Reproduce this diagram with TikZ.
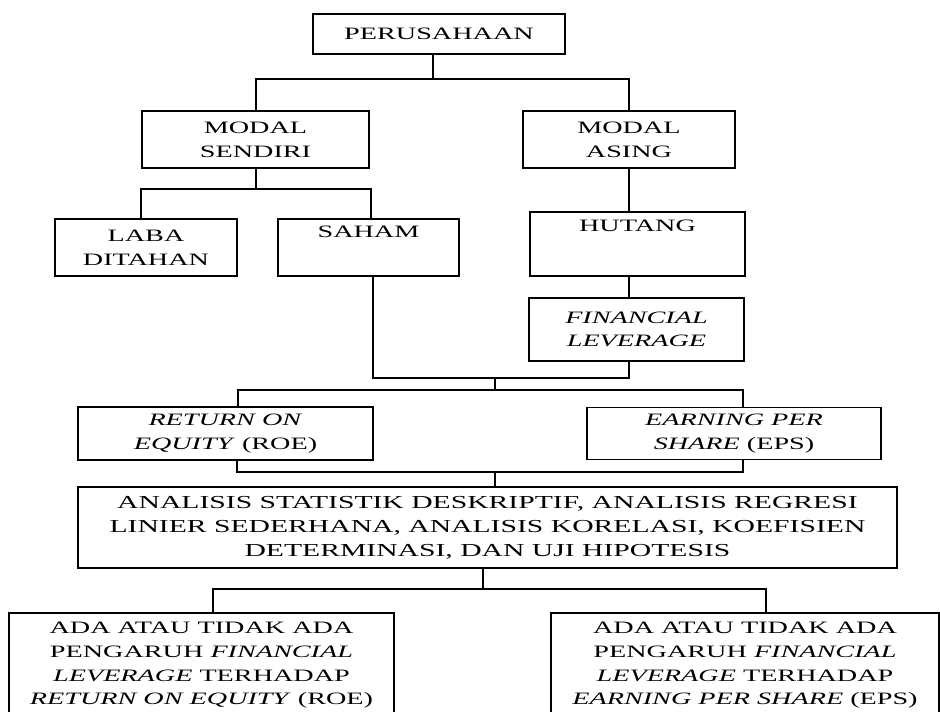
\documentclass[tikz,border=0pt]{standalone}
\usepackage{fontspec}
\setmainfont{Liberation Serif}[FakeStretch=1.62]
\usetikzlibrary{calc}
\tikzset{
  box/.style={draw, line width=1.6pt, inner sep=0pt, outer sep=0pt, align=center,
    font=\fontsize{17.4pt}{23.7pt}\selectfont},
  conn/.style={line width=1.3pt}
}
\begin{document}
\begin{tikzpicture}[x=1pt,y=-1pt]
\useasboundingbox (0,0) rectangle (940,712);
% nodes
\node[box, minimum width=252pt, minimum height=40pt] (per) at (439,34) {PERUSAHAAN};
\node[box, minimum width=227pt, minimum height=57pt] (ms) at (255.5,139.5) {MODAL\\SENDIRI};
\node[box, minimum width=212pt, minimum height=57pt] (ma) at (629,139.5) {MODAL\\ASING};
\node[box, minimum width=182pt, minimum height=57pt] (laba) at (146,247.5) {LABA\\DITAHAN};
\node[box, minimum width=181pt, minimum height=57pt] (saham) at (368.5,247.5) {SAHAM\\ \strut};
\node[box, minimum width=215pt, minimum height=64pt] (hut) at (637.5,244) {HUTANG\\[6pt] \strut};
\node[box, minimum width=215pt, minimum height=63pt] (fl) at (636.5,329.5) {\textit{FINANCIAL}\\\textit{LEVERAGE}};
\node[box, minimum width=295pt, minimum height=53pt] (roe) at (225.5,433.5) {\textit{RETURN ON}\\\textit{EQUITY} (ROE)};
\node[box, minimum width=294pt, minimum height=52pt] (eps) at (734,433.5) {\textit{EARNING PER}\\\textit{SHARE} (EPS)};
\node[box, minimum width=819pt, minimum height=81pt, font=\fontsize{18.3pt}{23.9pt}\selectfont] (ana) at (487.5,527.5) {ANALISIS STATISTIK DESKRIPTIF, ANALISIS REGRESI\\LINIER SEDERHANA, ANALISIS KORELASI, KOEFISIEN\\DETERMINASI, DAN UJI HIPOTESIS};
\node[box, minimum width=385pt, minimum height=105pt] (b1) at (201.5,665.5) {ADA ATAU TIDAK ADA\\PENGARUH \textit{FINANCIAL}\\\textit{LEVERAGE} TERHADAP\\\textit{RETURN ON EQUITY} (ROE)};
\node[box, minimum width=388pt, minimum height=105pt] (b2) at (745,665.5) {ADA ATAU TIDAK ADA\\PENGARUH \textit{FINANCIAL}\\\textit{LEVERAGE} TERHADAP\\\textit{EARNING PER SHARE} (EPS)};
% junction coordinates
\coordinate (j1) at (433,79);
\coordinate (j2) at (256,189);
\coordinate (j3) at (629,378);
\coordinate (j4) at (495,390);
\coordinate (j5) at (495,472);
\coordinate (j6) at (483,589);
% connectors
\draw[conn] (per.south -| j1) -- (j1);
\draw[conn] ($(ms.north)+(0.5,0)$) |- (j1) -| (ma.north);
\draw[conn] ($(ms.south)+(0.5,0)$) -- (j2);
\draw[conn] ($(laba.north)+(-5,0)$) |- (j2) -| ($(saham.north)+(2.5,0)$);
\draw[conn] (ma.south) -- (ma.south |- hut.north);
\draw[conn] (hut.south -| ma.south) -- (fl.north -| ma.south);
\draw[conn] ($(saham.south)+(4.5,0)$) |- (j3) -- (fl.south -| j3);
\draw[conn] (j3 -| j4) -- (j4);
\draw[conn] ($(roe.north)+(12.5,0)$) |- (j4) -| ($(eps.north)+(9,0)$);
\draw[conn] ($(roe.south)+(11.5,0)$) |- (j5) -| ($(eps.south)+(9,0)$);
\draw[conn] (j5) -- (j5 |- ana.north);
\draw[conn] (ana.south -| j6) -- (j6);
\draw[conn] ($(b1.north)+(11.5,0)$) |- (j6) -| ($(b2.north)+(21,0)$);
\end{tikzpicture}
\end{document}
